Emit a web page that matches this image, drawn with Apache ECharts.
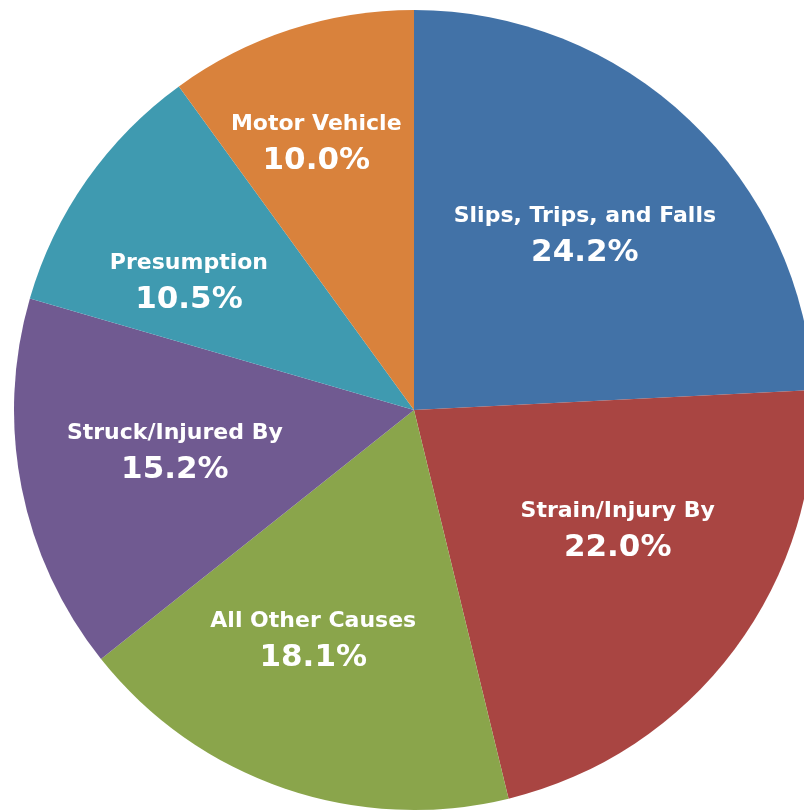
<!DOCTYPE html>
<html>
<head>
<meta charset="utf-8">
<script src="https://cdn.jsdelivr.net/npm/echarts@6/dist/echarts.min.js"></script>
<style>
  html, body { margin: 0; padding: 0; background: #ffffff; }
  #chart { width: 804px; height: 811px; }
</style>
</head>
<body>
<div id="chart"></div>
<script>
const categories = ['Slips, Trips, and Falls', 'Strain/Injury By', 'All Other Causes', 'Struck/Injured By', 'Presumption', 'Motor Vehicle'];
const values = [24.2, 22.0, 18.1, 15.2, 10.5, 10.0];
const colors = ['#4272a7', '#a94542', '#8aa54b', '#705a91', '#3f9ab0', '#d9823c'];
// label nudges (dx, dy) from the default inside position
const labelNudges = [[31, -27], [41, 0], [-35, 39], [-40, 4], [-59, -10], [-35, -73]];

const chart = echarts.init(document.getElementById('chart'), null, { renderer: 'canvas' });
chart.setOption({
  animation: false,
  series: [{
    type: 'pie',
    center: [414, 410],
    radius: [0, 400],
    startAngle: 90,
    clockwise: true,
    silent: true,
    itemStyle: { borderWidth: 0 },
    label: {
      show: true,
      position: 'inside',
      formatter: function (p) { return '{n|' + p.name + '}\n{p|' + p.value.toFixed(1) + '%}'; },
      rich: {
        n: { color: '#ffffff', fontFamily: 'DejaVu Sans', fontWeight: 'bold', fontSize: 22, lineHeight: 34, align: 'center' },
        p: { color: '#ffffff', fontFamily: 'DejaVu Sans', fontWeight: 'bold', fontSize: 31, lineHeight: 40, align: 'center' }
      }
    },
    labelLine: { show: false },
    labelLayout: function (params) {
      const d = labelNudges[params.dataIndex];
      return { dx: d[0], dy: d[1] };
    },
    data: categories.map(function (c, i) {
      return { name: c, value: values[i], itemStyle: { color: colors[i] } };
    })
  }]
});
</script>
</body>
</html>
